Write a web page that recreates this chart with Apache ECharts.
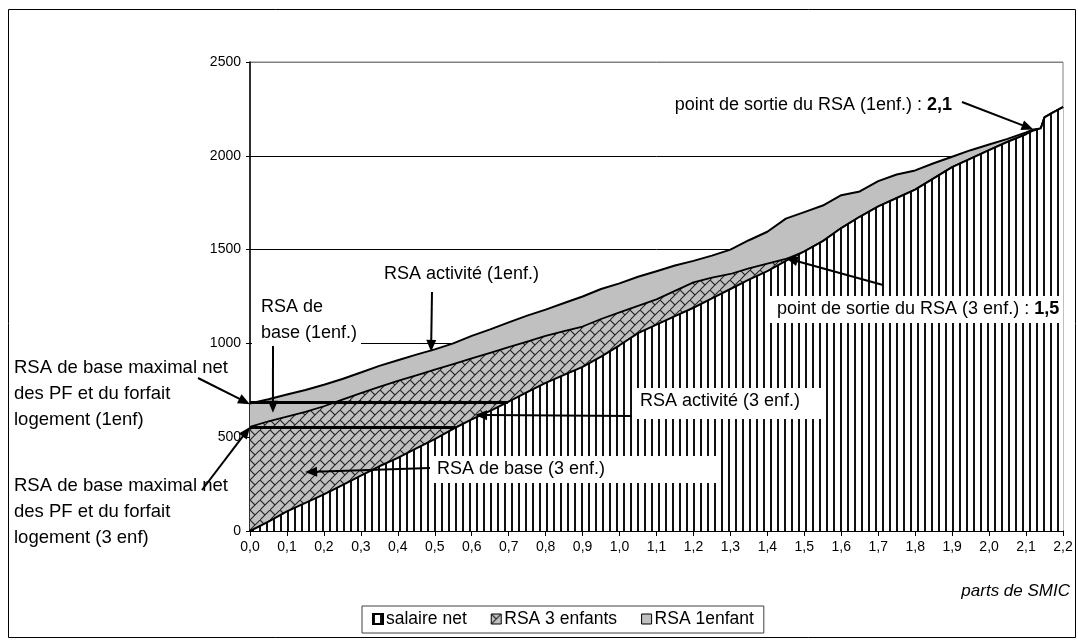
<!DOCTYPE html>
<html><head><meta charset="utf-8">
<script src="https://cdn.jsdelivr.net/npm/echarts@6/dist/echarts.min.js"></script>
<style>html,body{margin:0;padding:0;background:#fff}#c{width:1078px;height:643px}</style>
</head><body><div id="c"></div>
<script>
// ---- data ----
const xs = [0.00,0.05,0.10,0.15,0.20,0.25,0.30,0.35,0.40,0.45,0.50,0.55,0.60,0.65,0.70,0.75,0.80,0.85,0.90,0.95,
            1.00,1.05,1.10,1.15,1.20,1.25,1.30,1.35,1.40,1.45,1.50,1.55,1.60,1.65,1.70,1.75,1.80,1.85,1.90,1.95,
            2.00,2.05,2.10,2.12,2.14,2.15,2.17,2.20];
const salaire = [0,50,105,150,195,245,295,345,390,440,490,545,595,640,690,740,790,832,875,930,
                 990,1055,1100,1145,1190,1240,1290,1340,1385,1440,1490,1545,1615,1675,1730,1775,1820,1880,1940,1985,
                 2030,2075,2115,2135,2146,2205,2228,2260];
const rsa3 = [555,585,610,635,665,700,735,768,800,830,860,890,920,950,980,1010,1040,1065,1090,1130,
              1165,1200,1235,1280,1325,1350,1370,1400,1425,1450,1490,1545,1615,1675,1730,1775,1820,1880,1940,1985,
              2030,2075,2115,2135,2146,2205,2228,2260];
const rsa1 = [680,702,728,752,780,810,845,880,910,940,968,1000,1040,1075,1112,1148,1180,1215,1250,1290,
              1320,1355,1385,1415,1440,1468,1500,1550,1595,1665,1700,1735,1790,1810,1865,1900,1922,1960,1995,2030,
              2060,2090,2125,2140,2146,2205,2228,2260];
const seriesNames = ['salaire net', 'RSA 3 enfants', 'RSA 1enfant'];
const yTicks = [0, 500, 1000, 1500, 2000, 2500];
const xAxisTitle = 'parts de SMIC';
const baseMax1 = 688;   // RSA de base maximal net (1 enf)
const baseMax3 = 555;   // RSA de base maximal net (3 enf)
const exit3 = 1.45, exit3Val = 1455;
const exit1 = 2.12, exit1Val = 2140;

function salaryReaches(level){
  for(let i=1;i<xs.length;i++){
    if(salaire[i]>=level){const t=(level-salaire[i-1])/(salaire[i]-salaire[i-1]);return xs[i-1]+t*(xs[i]-xs[i-1]);}
  }
  return xs[xs.length-1];
}
const pairs = arr => xs.map((x,i)=>[x,arr[i]]);

// ---- patterns ----
function vertPattern(){
  const c=document.createElement('canvas');c.width=7;c.height=8;
  const g=c.getContext('2d');g.fillStyle='#fff';g.fillRect(0,0,7,8);
  g.fillStyle='#111';g.fillRect(0,0,2,8);return c;
}
function brickPattern(){
  const c=document.createElement('canvas');c.width=10;c.height=10;
  const g=c.getContext('2d');g.fillStyle='#c0c0c0';g.fillRect(0,0,10,10);
  g.strokeStyle='#262626';g.lineWidth=1.1;g.beginPath();
  g.moveTo(-2,12);g.lineTo(12,-2);g.moveTo(0,0);g.lineTo(5,5);g.stroke();return c;
}
const vertFill={image:vertPattern(),repeat:'repeat'};
const brickFill={image:brickPattern(),repeat:'repeat'};
const FONT='"Liberation Sans", Arial, sans-serif';

const chart=echarts.init(document.getElementById('c'),null,{renderer:'canvas'});
const option={
  animation:false,
  backgroundColor:'#fff',
  grid:{left:250,right:15,top:62,bottom:112,show:true,borderColor:'#808080',borderWidth:1,backgroundColor:'transparent'},
  xAxis:{type:'value',min:0,max:2.2,interval:0.1,
    axisLine:{show:true,onZero:false,lineStyle:{color:'#000',width:1.5}},
    axisTick:{show:true,length:5,lineStyle:{color:'#000'}},
    splitLine:{show:false},
    axisLabel:{margin:9,color:'#000',fontSize:14,fontFamily:FONT,
      formatter:v=>v.toFixed(1).replace('.',',')}},
  yAxis:{type:'value',min:0,max:2500,interval:500,
    axisLine:{show:true,lineStyle:{color:'#000',width:1.5}},
    axisTick:{show:true,length:4,lineStyle:{color:'#000'}},
    splitLine:{show:true,lineStyle:{color:['#000','#000','#000','#000','#000','#808080'],width:1}},
    axisLabel:{margin:9,color:'#000',fontSize:14,fontFamily:FONT,formatter:v=>yTicks.includes(v)?String(v):''}},
  legend:{
    left:362,top:606,orient:'horizontal',
    data:[
      {name:seriesNames[0],itemStyle:{color:vertFill,borderColor:'#000',borderWidth:2}},
      {name:seriesNames[1],itemStyle:{color:brickFill,borderColor:'#000',borderWidth:1}},
      {name:seriesNames[2],itemStyle:{color:'#c0c0c0',borderColor:'#000',borderWidth:1}}
    ],
    icon:'rect',itemWidth:10,itemHeight:10,itemGap:24,
    padding:[4,10,5,10],borderColor:'#404040',borderWidth:1,
    textStyle:{fontSize:17.5,fontFamily:FONT,color:'#000',padding:[0,0,0,-2]},
    selectedMode:false
  },
  series:[
    {name:seriesNames[2],type:'line',data:pairs(rsa1),showSymbol:false,z:2,
     lineStyle:{color:'#000',width:2},itemStyle:{color:'#c0c0c0'},areaStyle:{color:'#c0c0c0',opacity:1,origin:'start'}},
    {name:seriesNames[1],type:'line',data:pairs(rsa3),showSymbol:false,z:3,
     lineStyle:{color:'#000',width:1.8},itemStyle:{color:'#808080'},areaStyle:{color:brickFill,opacity:1,origin:'start'}},
    {name:seriesNames[0],type:'line',data:pairs(salaire),showSymbol:false,z:4,
     lineStyle:{color:'#000',width:2},itemStyle:{color:'#fff'},areaStyle:{color:vertFill,opacity:1,origin:'start'},
     markLine:{silent:true,symbol:['none','none'],animation:false,label:{show:false},
       lineStyle:{color:'#000',width:3,type:'solid'},
       data:[
         [{coord:[0,baseMax1]},{coord:[salaryReaches(baseMax1),baseMax1]}],
         [{coord:[0,baseMax3]},{coord:[salaryReaches(baseMax3),baseMax3]}]
       ]}}
  ]
};
chart.setOption(option);

// ---- annotations ----
const P=(x,y)=>chart.convertToPixel({gridIndex:0},[x,y]);
function arrow(p0,p1){
  const dx=p1[0]-p0[0],dy=p1[1]-p0[1],L=Math.hypot(dx,dy),ux=dx/L,uy=dy/L;
  const hl=12,hw=5,bx=p1[0]-ux*hl,by=p1[1]-uy*hl;
  return [
    {type:'line',shape:{x1:p0[0],y1:p0[1],x2:bx+ux*2,y2:by+uy*2},style:{stroke:'#000',lineWidth:2},z:100},
    {type:'polygon',shape:{points:[[p1[0],p1[1]],[bx-uy*hw,by+ux*hw],[bx+uy*hw,by-ux*hw]]},style:{fill:'#000'},z:100}
  ];
}
function txt(s,x,y,extra){
  return {type:'text',x:x,y:y,z:101,style:Object.assign({text:s,font:'18px '+FONT,fill:'#000',verticalAlign:'middle',lineHeight:26},extra||{})};
}
function box(x,y,w,h){return {type:'rect',shape:{x:x,y:y,width:w,height:h},style:{fill:'#fff'},z:99};}
const rich={n:{font:'18px '+FONT},b:{font:'bold 18px '+FONT}};

const g=[];
g.push({type:'rect',shape:{x:8.5,y:9.5,width:1067,height:628},style:{fill:null,stroke:'#000',lineWidth:1},z:0});
// left labels
g.push(txt('RSA de base maximal net\ndes PF et du forfait\nlogement (1enf)',14,394,{font:'18.5px '+FONT}));
g.push(txt('RSA de base maximal net\ndes PF et du forfait\nlogement (3 enf)',14,512,{font:'18.5px '+FONT}));
g.push(...arrow([198,378],P(0,baseMax1-12)));
g.push(...arrow([202,490],P(0,baseMax3)));
// in-plot labels
g.push(box(252,294,109,56));
g.push(txt('RSA de\nbase (1enf.)',261,320));
g.push(...arrow([273,346],P(0.062,630)));
g.push(txt('RSA activité (1enf.)',384,274));
g.push(...arrow([432,292],P(0.49,955)));
g.push(box(632,388,194,31));
g.push(txt('RSA activité (3 enf.)',640,401));
g.push(...arrow([632,416],P(0.609,618)));
g.push(box(430,456,290,27));
g.push(txt('RSA de base (3 enf.)',437,469));
g.push(...arrow([430,468],P(0.149,314)));
g.push(box(768,296,294,27));
g.push(txt('{n|point de sortie du RSA (3 enf.) : }{b|1,5}',777,309,{rich:rich}));
g.push(...arrow([883,285],P(exit3,exit3Val)));
g.push(txt('{n|point de sortie du RSA (1enf.) : }{b|2,1}',952,105,{rich:rich,align:'right'}));
g.push(...arrow([962,102],P(exit1,exit1Val)));
g.push(txt(xAxisTitle,1070,591,{align:'right',font:'italic 17px '+FONT}));
chart.setOption({graphic:g});
</script></body></html>
